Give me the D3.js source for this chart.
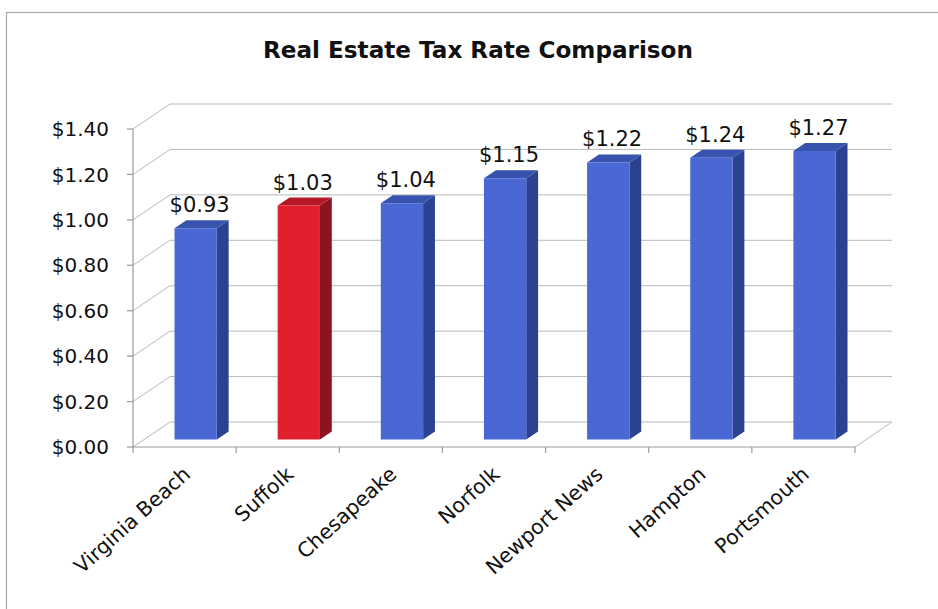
<!DOCTYPE html>
<html>
<head>
<meta charset="utf-8">
<script src="https://cdn.jsdelivr.net/npm/d3@7"></script>
<style>
  html, body { margin: 0; padding: 0; background: #ffffff; }
  svg { display: block; }
  text { font-family: "DejaVu Sans", sans-serif; fill: #111; }
</style>
</head>
<body>
<svg id="chart" width="938" height="609"></svg>
<script>
// ---- data ----
const title = "Real Estate Tax Rate Comparison";
const categories = ["Virginia Beach", "Suffolk", "Chesapeake", "Norfolk", "Newport News", "Hampton", "Portsmouth"];
const values = [0.93, 1.03, 1.04, 1.15, 1.22, 1.24, 1.27];
const highlighted = ["Suffolk"];
const yTicks = [0, 0.2, 0.4, 0.6, 0.8, 1.0, 1.2, 1.4];

// ---- layout ----
const svg = d3.select("#chart");
const x0 = 133, x1 = 855;      // front floor edge
const yBase = 447;             // front plane zero
const plotH = 318;             // height of 0..1.4 on front plane
const depthDx = 37, depthDy = -25; // full depth offset
const barFront = 0.30, barBack = 0.62; // depth fractions of bars

const x = d3.scaleBand().domain(categories).range([x0, x1]).paddingInner(0.59).paddingOuter(0.295);
const xCat = d3.scaleBand().domain(categories).range([x0, x1]);
const y = d3.scaleLinear().domain([0, 1.4]).range([0, plotH]);

function P(px, v, d) {
  return [px + d * depthDx, yBase + d * depthDy - y(v)];
}
const pts = arr => arr.map(p => p.join(",")).join(" ");

const colors = {
  normal: { front: "#4a68d4", side: "#2a4290", top: "#3753ad" },
  hi:     { front: "#e21f2c", side: "#8c1420", top: "#b41a26" }
};

// frame
svg.append("rect").attr("x", 6.5).attr("y", 12.5).attr("width", 960).attr("height", 620)
  .attr("fill", "none").attr("stroke", "#a8a8a8").attr("stroke-width", 1.2);

// title
const t = svg.append("text").attr("x", 478).attr("y", 58).attr("text-anchor", "middle")
  .attr("font-weight", "bold").attr("font-size", 22).text(title);
const tl = t.node().getComputedTextLength();
t.attr("font-size", 22 * 430 / tl);

const grid = svg.append("g").attr("stroke", "#b9b9b9").attr("stroke-width", 1).attr("fill", "none");

// back wall gridlines and side wall diagonals
yTicks.forEach(v => {
  const a = P(x0, v, 0), b = P(x0, v, 1), c = P(x1, v, 1);
  grid.append("line").attr("x1", a[0]).attr("y1", a[1]).attr("x2", b[0]).attr("y2", b[1]);
  grid.append("line").attr("x1", b[0]).attr("y1", b[1]).attr("x2", c[0]).attr("y2", c[1]);
});
// floor right edge
{
  const a = P(x1, 0, 0), b = P(x1, 0, 1);
  grid.append("line").attr("x1", a[0]).attr("y1", a[1]).attr("x2", b[0]).attr("y2", b[1]);
}

// front axes
const axis = svg.append("g").attr("stroke", "#9a9a9a").attr("stroke-width", 1.2).attr("fill", "none");
axis.append("line").attr("x1", x0).attr("y1", yBase).attr("x2", x0).attr("y2", yBase - y(1.4));
axis.append("line").attr("x1", x0).attr("y1", yBase).attr("x2", x1).attr("y2", yBase);
yTicks.forEach(v => {
  axis.append("line").attr("x1", x0 - 6).attr("x2", x0).attr("y1", yBase - y(v)).attr("y2", yBase - y(v));
});
categories.forEach(c => {
  const xs = xCat(c);
  axis.append("line").attr("x1", xs).attr("x2", xs).attr("y1", yBase).attr("y2", yBase + 6);
});
axis.append("line").attr("x1", x1).attr("x2", x1).attr("y1", yBase).attr("y2", yBase + 6);

// y labels
svg.append("g").selectAll("text").data(yTicks).join("text")
  .attr("x", 109).attr("y", v => yBase - y(v)).attr("dy", "0.36em")
  .attr("text-anchor", "end").attr("font-size", 20)
  .text(v => "$" + v.toFixed(2));

// bars
const bars = svg.append("g");
categories.forEach((c, i) => {
  const v = values[i];
  const col = highlighted.includes(c) ? colors.hi : colors.normal;
  const L = x(c), R = x(c) + x.bandwidth();
  const fBL = P(L, 0, barFront), fTR = P(R, v, barFront), fTL = P(L, v, barFront), fBR = P(R, 0, barFront);
  const bTR = P(R, v, barBack), bTL = P(L, v, barBack), bBR = P(R, 0, barBack);
  const g = bars.append("g");
  g.append("polygon").attr("points", pts([fBR, fTR, bTR, bBR])).attr("fill", col.side);
  g.append("polygon").attr("points", pts([fTL, fTR, bTR, bTL])).attr("fill", col.top);
  g.append("polygon").attr("points", pts([fBL, fTL, fTR, fBR])).attr("fill", col.front);
  // value label
  const cx = (L + R) / 2 + (barFront + barBack) / 2 * depthDx;
  g.append("text").attr("x", cx - 2).attr("y", bTL[1] - 8).attr("text-anchor", "middle")
    .attr("font-size", 21).text("$" + v.toFixed(2));
});

// x labels
svg.append("g").selectAll("text").data(categories).join("text")
  .attr("transform", c => `translate(${xCat(c) + xCat.bandwidth() / 2 + 7},${yBase + 29}) rotate(-42)`)
  .attr("text-anchor", "end").attr("font-size", 20.5)
  .text(c => c);
</script>
</body>
</html>
